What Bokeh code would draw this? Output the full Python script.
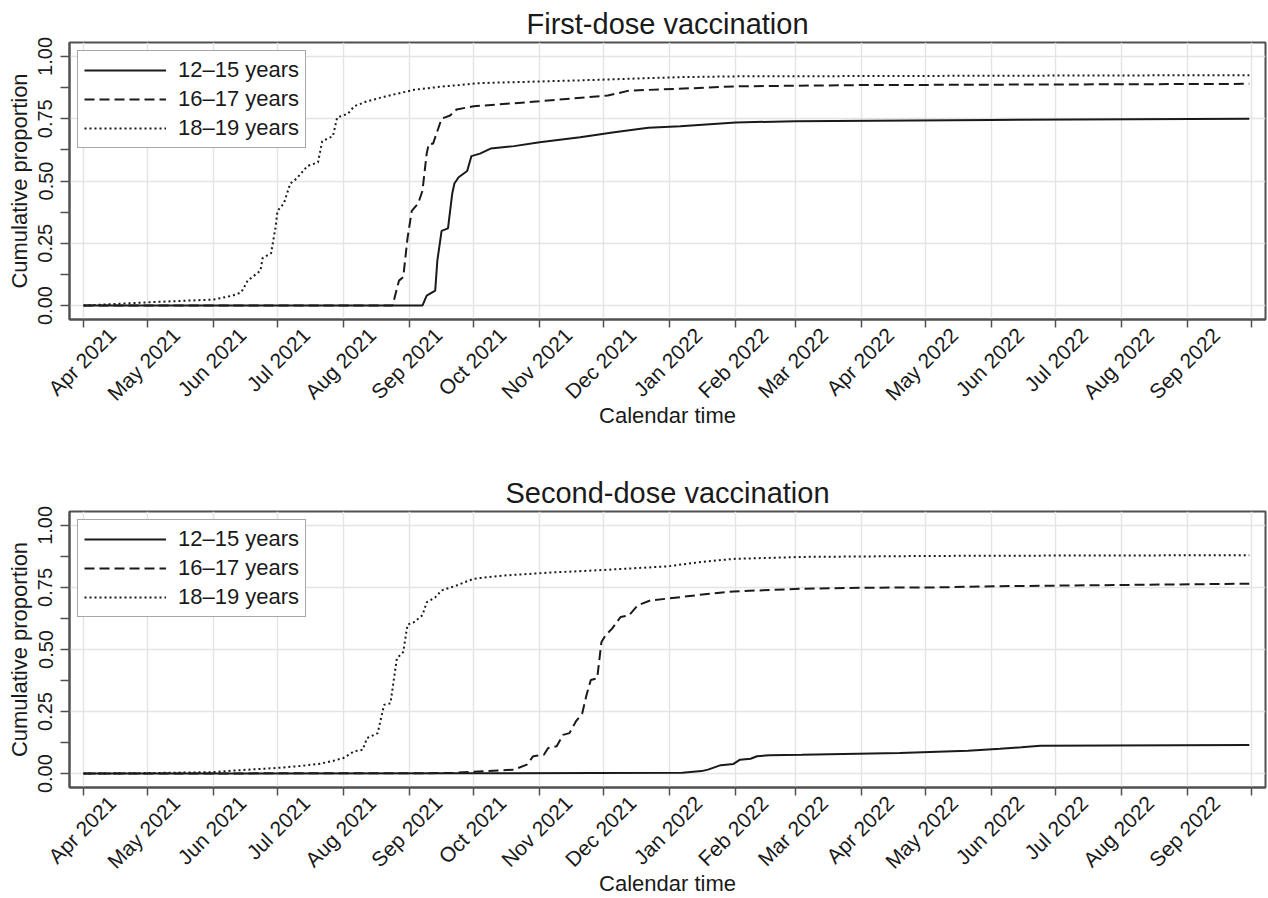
from math import pi
import pandas as pd
from bokeh.plotting import figure
from bokeh.layouts import column
from bokeh.models import Range1d, FixedTicker, ColumnDataSource, NumeralTickFormatter, DatetimeAxis
from bokeh.embed import file_html
from bokeh.resources import INLINE

# ---------------- data ----------------
series_labels = ["12\u201315 years", "16\u201317 years", "18\u201319 years"]

# First-dose vaccination
fd_dates_1215 = ["2021-04-01", "2021-09-07", "2021-09-09", "2021-09-13", "2021-09-14", "2021-09-16",
                 "2021-09-19", "2021-09-21", "2021-09-22", "2021-09-24", "2021-09-28", "2021-09-30",
                 "2021-10-04", "2021-10-09", "2021-10-20", "2021-11-01", "2021-11-20", "2021-12-06",
                 "2021-12-22", "2022-01-06", "2022-02-01", "2022-03-01", "2022-06-01", "2022-09-30"]
fd_vals_1215 = [0, 0, 0.04, 0.06, 0.18, 0.30, 0.31, 0.45, 0.49, 0.515, 0.54, 0.60,
                0.61, 0.63, 0.64, 0.656, 0.676, 0.696, 0.714, 0.72, 0.735, 0.74, 0.745, 0.75]

fd_dates_1617 = ["2021-04-01", "2021-08-24", "2021-08-27", "2021-08-29", "2021-08-31", "2021-09-02",
                 "2021-09-05", "2021-09-07", "2021-09-09", "2021-09-10", "2021-09-12", "2021-09-16",
                 "2021-09-20", "2021-09-23", "2021-10-01", "2021-11-01", "2021-12-03", "2021-12-13",
                 "2022-01-05", "2022-02-01", "2022-04-01", "2022-09-30"]
fd_vals_1617 = [0, 0, 0.10, 0.114, 0.27, 0.38, 0.41, 0.46, 0.61, 0.65, 0.65, 0.75,
                0.763, 0.787, 0.80, 0.82, 0.843, 0.863, 0.87, 0.88, 0.885, 0.89]

fd_dates_1819 = ["2021-04-01", "2021-05-01", "2021-06-01", "2021-06-10", "2021-06-14", "2021-06-17",
                 "2021-06-23", "2021-06-24", "2021-06-28", "2021-06-30", "2021-07-01", "2021-07-04",
                 "2021-07-07", "2021-07-10", "2021-07-15", "2021-07-20", "2021-07-22", "2021-07-27",
                 "2021-07-29", "2021-08-03", "2021-08-06", "2021-08-12", "2021-08-20", "2021-09-03",
                 "2021-09-15", "2021-10-04", "2021-11-20", "2022-01-06", "2022-02-01", "2022-09-30"]
fd_vals_1819 = [0, 0.013, 0.024, 0.04, 0.053, 0.10, 0.14, 0.19, 0.21, 0.31, 0.38, 0.41,
                0.49, 0.51, 0.56, 0.575, 0.66, 0.68, 0.755, 0.77, 0.80, 0.82, 0.838, 0.866,
                0.878, 0.893, 0.904, 0.917, 0.92, 0.925]

# Second-dose vaccination
sd_dates_1215 = ["2021-04-01", "2021-10-01", "2022-01-07", "2022-01-16", "2022-01-19", "2022-01-25",
                 "2022-01-31", "2022-02-03", "2022-02-08", "2022-02-11", "2022-02-17", "2022-03-04",
                 "2022-04-19", "2022-05-21", "2022-06-05", "2022-06-15", "2022-06-24", "2022-09-30"]
sd_vals_1215 = [0, 0.001, 0.003, 0.01, 0.016, 0.034, 0.039, 0.056, 0.06, 0.07, 0.074, 0.076,
                0.083, 0.092, 0.10, 0.106, 0.112, 0.115]

sd_dates_1617 = ["2021-04-01", "2021-09-20", "2021-10-06", "2021-10-20", "2021-10-26", "2021-10-29",
                 "2021-11-03", "2021-11-05", "2021-11-09", "2021-11-12", "2021-11-15", "2021-11-18",
                 "2021-11-21", "2021-11-23", "2021-11-25", "2021-11-28", "2021-11-30", "2021-12-02",
                 "2021-12-05", "2021-12-09", "2021-12-13", "2021-12-17", "2021-12-23", "2021-12-31",
                 "2022-01-15", "2022-01-31", "2022-03-04", "2022-04-04", "2022-05-05", "2022-06-05",
                 "2022-09-30"]
sd_vals_1617 = [0, 0.002, 0.01, 0.016, 0.036, 0.07, 0.076, 0.103, 0.11, 0.156, 0.163, 0.21,
                0.243, 0.317, 0.377, 0.384, 0.53, 0.558, 0.584, 0.631, 0.638, 0.678, 0.698, 0.705,
                0.72, 0.734, 0.745, 0.749, 0.75, 0.755, 0.765]

sd_dates_1819 = ["2021-04-01", "2021-05-01", "2021-06-01", "2021-06-10", "2021-07-01", "2021-07-12",
                 "2021-07-21", "2021-07-27", "2021-08-01", "2021-08-06", "2021-08-10", "2021-08-12",
                 "2021-08-17", "2021-08-20", "2021-08-23", "2021-08-26", "2021-08-29", "2021-08-31",
                 "2021-09-03", "2021-09-07", "2021-09-09", "2021-09-13", "2021-09-16", "2021-09-23",
                 "2021-10-01", "2021-10-15", "2021-11-06", "2021-11-30", "2021-12-31", "2022-01-16",
                 "2022-01-31", "2022-03-04", "2022-05-05", "2022-06-13", "2022-09-30"]
sd_vals_1819 = [0, 0.002, 0.006, 0.012, 0.023, 0.031, 0.04, 0.051, 0.063, 0.09, 0.096, 0.143,
                0.163, 0.277, 0.283, 0.464, 0.49, 0.60, 0.61, 0.638, 0.69, 0.71, 0.738, 0.758,
                0.785, 0.798, 0.81, 0.82, 0.835, 0.853, 0.865, 0.873, 0.877, 0.878, 0.88]

# ticks
x_tick_dates = ["2021-04-01", "2021-05-01", "2021-06-01", "2021-07-01", "2021-08-01", "2021-09-01",
                "2021-10-01", "2021-11-01", "2021-12-01", "2022-01-01", "2022-02-01", "2022-03-01",
                "2022-04-01", "2022-05-01", "2022-06-01", "2022-07-01", "2022-08-01", "2022-09-01",
                "2022-10-01"]
x_tick_labels = ["Apr 2021", "May 2021", "Jun 2021", "Jul 2021", "Aug 2021", "Sep 2021",
                 "Oct 2021", "Nov 2021", "Dec 2021", "Jan 2022", "Feb 2022", "Mar 2022",
                 "Apr 2022", "May 2022", "Jun 2022", "Jul 2022", "Aug 2022", "Sep 2022", ""]
y_ticks = [0.0, 0.25, 0.5, 0.75, 1.0]
y_minor = [0.125, 0.375, 0.625, 0.875]

# ---------------- styling ----------------
FONT = "Liberation Sans"
INK = "#1a1a1a"
FRAME = "#505050"
GRID = "#e4e4e4"
FW = 1196
Y0, Y1 = -0.056, 1.056
PAD_DAYS = 6.6
LABEL_SHIFT_DAYS = 13.5   # centres the rotated month labels under their ticks
styles = [dict(line_dash="solid"), dict(line_dash="10 5"), dict(line_dash="2 3")]


def ms(d):
    return (pd.Timestamp(d) - pd.Timestamp("1970-01-01")) / pd.Timedelta(milliseconds=1)


def make_fig(title, dates_list, vals_list, top, bottom, fh):
    xs = pd.Timestamp(x_tick_dates[0]) - pd.Timedelta(days=PAD_DAYS)
    xe = pd.Timestamp(x_tick_dates[-1]) + pd.Timedelta(days=PAD_DAYS)
    p = figure(x_axis_type="datetime", output_backend="svg", toolbar_location=None,
               frame_width=FW, frame_height=fh,
               min_border_left=69, min_border_right=3, min_border_top=top, min_border_bottom=bottom,
               x_range=Range1d(xs.to_pydatetime(), xe.to_pydatetime()), y_range=Range1d(Y0, Y1))
    p.background_fill_color = "white"
    p.border_fill_color = "white"
    p.outline_line_color = FRAME
    p.outline_line_width = 2

    p.title.text = title
    p.title.align = "center"
    p.title.text_font = FONT
    p.title.text_font_size = "29px"
    p.title.text_font_style = "normal"
    p.title.text_color = INK
    p.title.standoff = 5

    for dates, vals, lab, st in zip(dates_list, vals_list, series_labels, styles):
        src = ColumnDataSource(dict(x=pd.to_datetime(dates), y=vals))
        p.line("x", "y", source=src, line_color=INK, line_width=2, legend_label=lab, **st)

    # grids
    p.xgrid.grid_line_color = GRID
    p.ygrid.grid_line_color = GRID
    p.xgrid.grid_line_width = 1.5
    p.ygrid.grid_line_width = 1.5

    # x axis: tick marks (labels carried by a second axis below)
    xt = [ms(d) for d in x_tick_dates]
    p.xaxis.ticker = FixedTicker(ticks=xt, minor_ticks=[])
    p.xaxis.major_label_overrides = {t: "" for t in xt}
    p.xaxis.major_label_standoff = 0
    p.xaxis.major_label_text_font_size = "1px"
    p.xaxis.axis_line_color = FRAME
    p.xaxis.axis_line_width = 2
    p.xaxis.major_tick_line_color = FRAME
    p.xaxis.major_tick_line_width = 1.5
    p.xaxis.major_tick_in = 0
    p.xaxis.major_tick_out = 8

    shift = LABEL_SHIFT_DAYS * 86400000.0
    xl = [t + shift for t in xt]
    lab_axis = DatetimeAxis(ticker=FixedTicker(ticks=xl, minor_ticks=[]),
                            major_label_overrides={t: s for t, s in zip(xl, x_tick_labels)},
                            major_label_orientation=pi / 4, major_label_standoff=4,
                            major_label_text_font=FONT, major_label_text_font_size="21px",
                            major_label_text_color=INK,
                            axis_line_color=None, major_tick_line_color=None,
                            minor_tick_line_color=None, major_tick_in=0, major_tick_out=0,
                            minor_tick_in=0, minor_tick_out=0,
                            axis_label="Calendar time", axis_label_text_font=FONT,
                            axis_label_text_font_size="22px", axis_label_text_font_style="normal",
                            axis_label_text_color=INK, axis_label_standoff=-13)
    p.add_layout(lab_axis, "below")

    # y axis
    p.yaxis.ticker = FixedTicker(ticks=y_ticks, minor_ticks=y_minor)
    p.yaxis.formatter = NumeralTickFormatter(format="0.00")
    p.yaxis.major_label_orientation = "vertical"
    p.yaxis.major_label_text_font = FONT
    p.yaxis.major_label_text_font_size = "20px"
    p.yaxis.major_label_text_color = INK
    p.yaxis.major_label_standoff = 8
    p.yaxis.axis_line_color = FRAME
    p.yaxis.axis_line_width = 2
    p.yaxis.major_tick_line_color = FRAME
    p.yaxis.minor_tick_line_color = FRAME
    p.yaxis.major_tick_line_width = 1.5
    p.yaxis.minor_tick_line_width = 1.5
    p.yaxis.major_tick_in = 0
    p.yaxis.major_tick_out = 9
    p.yaxis.minor_tick_in = 0
    p.yaxis.minor_tick_out = 9
    p.yaxis.axis_label = "Cumulative proportion"
    p.yaxis.axis_label_text_font = FONT
    p.yaxis.axis_label_text_font_size = "22px"
    p.yaxis.axis_label_text_font_style = "normal"
    p.yaxis.axis_label_text_color = INK
    p.yaxis.axis_label_standoff = 4

    # legend
    lg = p.legend[0]
    lg.location = "top_left"
    lg.margin = 8
    lg.padding = 6
    lg.spacing = 3
    lg.glyph_width = 82
    lg.glyph_height = 22
    lg.label_height = 22
    lg.label_standoff = 12
    lg.label_text_font = FONT
    lg.label_text_font_size = "22px"
    lg.label_text_color = INK
    lg.border_line_color = FRAME
    lg.border_line_width = 1.5
    lg.background_fill_color = "white"
    lg.background_fill_alpha = 1.0
    return p


p1 = make_fig("First-dose vaccination",
              [fd_dates_1215, fd_dates_1617, fd_dates_1819],
              [fd_vals_1215, fd_vals_1617, fd_vals_1819], top=42, bottom=139, fh=277)
p2 = make_fig("Second-dose vaccination",
              [sd_dates_1215, sd_dates_1617, sd_dates_1819],
              [sd_vals_1215, sd_vals_1617, sd_vals_1819], top=53, bottom=100, fh=276)

layout = column(p1, p2)
open("out.html", "w").write(file_html(layout, INLINE))
